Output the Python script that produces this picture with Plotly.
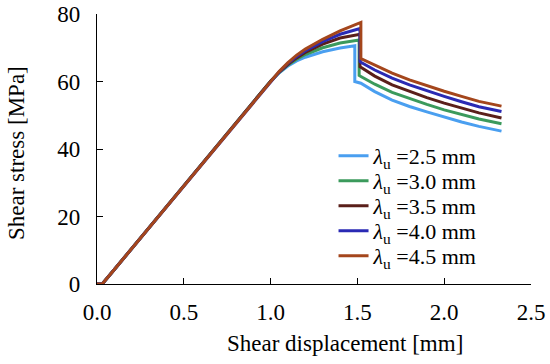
import plotly.graph_objects as go

# Shared linear rise (all series overlap here)
x_rise = [0.0, 0.03, 0.1, 0.2, 0.3, 0.4, 0.5, 0.6, 0.7, 0.8, 0.9, 1.0]
y_rise = [0.0, 0.0, 4.3, 10.5, 16.7, 22.9, 29.1, 35.3, 41.5, 47.7, 53.9, 60.1]

labels = ["2.5", "3.0", "3.5", "4.0", "4.5"]
colors = ["#4a9ff0", "#3b9a5c", "#5a1f1a", "#2a2ab4", "#a4461c"]

# Post-linear part for each series: pre-peak, peak, drop, softening
x_25 = [1.05, 1.1, 1.15, 1.2, 1.3, 1.4, 1.485, 1.485, 1.52, 1.6, 1.7, 1.8, 1.9, 2.0, 2.1, 2.2, 2.33]
y_25 = [62.6, 64.6, 66.1, 67.2, 68.8, 69.9, 70.6, 60.0, 59.5, 57.0, 54.5, 52.6, 51.0, 49.4, 48.0, 46.7, 45.3]

x_30 = [1.05, 1.1, 1.15, 1.2, 1.3, 1.4, 1.51, 1.51, 1.52, 1.6, 1.7, 1.8, 1.9, 2.0, 2.1, 2.2, 2.33]
y_30 = [62.7, 64.9, 66.6, 68.0, 70.0, 71.4, 72.3, 61.8, 61.5, 59.2, 56.8, 54.9, 53.2, 51.6, 50.2, 48.9, 47.5]

x_35 = [1.05, 1.1, 1.15, 1.2, 1.3, 1.4, 1.515, 1.515, 1.52, 1.6, 1.7, 1.8, 1.9, 2.0, 2.1, 2.2, 2.33]
y_35 = [62.8, 65.1, 67.0, 68.6, 71.1, 72.9, 74.0, 64.4, 64.2, 61.6, 59.0, 57.0, 55.2, 53.6, 52.1, 50.7, 49.2]

x_40 = [1.05, 1.1, 1.15, 1.2, 1.3, 1.4, 1.515, 1.515, 1.52, 1.6, 1.7, 1.8, 1.9, 2.0, 2.1, 2.2, 2.33]
y_40 = [62.9, 65.4, 67.4, 69.1, 71.8, 74.0, 75.7, 65.9, 65.7, 63.4, 61.0, 59.0, 57.2, 55.6, 54.0, 52.5, 51.1]

x_45 = [1.05, 1.1, 1.15, 1.2, 1.3, 1.4, 1.52, 1.52, 1.6, 1.7, 1.8, 1.9, 2.0, 2.1, 2.2, 2.33]
y_45 = [63.0, 65.6, 67.8, 69.6, 72.5, 75.0, 77.5, 66.8, 64.8, 62.5, 60.5, 58.7, 57.1, 55.6, 54.1, 52.7]

xs = [x_25, x_30, x_35, x_40, x_45]
ys = [y_25, y_30, y_35, y_40, y_45]

FONT = "Liberation Serif"
PLOT_H = 364 - 14 - 80
legend_rows_px = [156, 181, 206, 231, 256]

fig = go.Figure()
legend_layout = {}
for i, (lab, col, xx, yy) in enumerate(zip(labels, colors, xs, ys)):
    key = "legend" if i == 0 else f"legend{i + 1}"
    fig.add_trace(go.Scatter(
        x=x_rise + xx, y=y_rise + yy, mode="lines",
        line=dict(color=col, width=3),
        name="<i>λ</i><sub>u</sub> =" + lab + " mm",
        legend=key,
    ))
    legend_layout[key] = dict(
        x=0.545, y=(284 - legend_rows_px[i]) / PLOT_H,
        xanchor="left", yanchor="middle",
        bgcolor="rgba(0,0,0,0)", font=dict(family=FONT, size=22, color="black"),
        itemwidth=30,
    )

fig.update_layout(
    width=550, height=364,
    margin=dict(l=97, r=19, t=14, b=80),
    paper_bgcolor="white", plot_bgcolor="white",
    font=dict(family=FONT, size=23, color="black"),
    showlegend=True,
    xaxis=dict(range=[0, 2.5], tickvals=[0, 0.5, 1.0, 1.5, 2.0, 2.5],
               ticktext=["0.0", "0.5", "1.0", "1.5", "2.0", "2.5"],
               ticks="inside", ticklen=6, tickwidth=1.3, tickcolor="black",
               showline=True, linecolor="black", linewidth=1.3,
               showgrid=False, zeroline=False, automargin=False,
               ticklabelstandoff=7),
    yaxis=dict(range=[0, 80], tickvals=[0, 20, 40, 60, 80],
               ticks="inside", ticklen=6, tickwidth=1.3, tickcolor="black",
               showline=True, linecolor="black", linewidth=1.3,
               showgrid=False, zeroline=False, automargin=False,
               ticklabelstandoff=11),
    annotations=[
        dict(text="Shear displacement [mm]", xref="paper", yref="paper",
             x=(345 - 97) / 434, y=(284 - 343) / PLOT_H,
             xanchor="center", yanchor="middle",
             showarrow=False, font=dict(size=23)),
        dict(text="Shear stress [MPa]", xref="paper", yref="paper",
             x=(16 - 97) / 434, y=(284 - 153) / PLOT_H, textangle=-90,
             xanchor="center", yanchor="middle",
             showarrow=False, font=dict(size=23)),
    ],
    **legend_layout,
)

fig.write_html("out.html", config={"displayModeBar": False},
               post_script="document.body.style.margin='0px';")
